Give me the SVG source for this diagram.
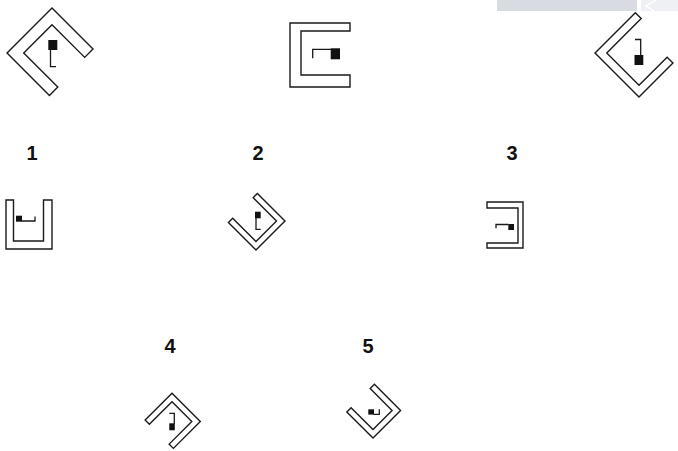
<svg xmlns="http://www.w3.org/2000/svg" width="678" height="451" viewBox="0 0 678 451">
<style>
.strip{fill:#fff;stroke:#1a1a1a;stroke-width:1.4;stroke-linejoin:miter}
.key{fill:none;stroke:#1a1a1a;stroke-width:1.3}
.blk{fill:#111}
.lbl{font-family:"Liberation Sans",Arial,sans-serif;font-weight:bold;font-size:20px;fill:#111;text-anchor:middle}
</style>
<rect width="678" height="451" fill="#fff"/>
<g id="watermark">
<rect x="497" y="0" width="140" height="11" fill="#d8dce2"/>
<rect x="641" y="0" width="37" height="11" fill="#eef0f3"/>
<path d="M656,0 L646,6 L654,11" fill="none" stroke="#fff" stroke-width="1.5"/>
</g>
<g id="shape1">
<path class="strip" transform="translate(52,53) rotate(45)" d="M26.2,-31.8 H-31.8 V31.8 H28.2 V20 H-20 V-20 H26.2 Z"/>
<rect class="blk" x="48.3" y="40" width="9" height="10"/>
<path class="key" d="M50.5,50 V66.7 H56"/>
</g>
<g id="shape2">
<path class="strip" d="M290,23 V87 H350 V75 H301 V31 H350 V23 Z"/>
<rect class="blk" x="330.7" y="48.3" width="9.3" height="11"/>
<path class="key" d="M331,49.3 H312.7 V58.3"/>
</g>
<g id="shape3">
<path class="strip" transform="translate(639,53) rotate(-45)" d="M25.9,-31.1 H-31.1 V31.1 H16.9 V22.8 H-22.8 V-22.8 H25.9 Z"/>
<rect class="blk" x="634.5" y="55" width="8.8" height="10"/>
<path class="key" d="M640.7,55 V39.5 H635"/>
</g>
<g id="shape4">
<path class="strip" d="M6,200 V249 H52 V200 H43.5 V241 H13.5 V200 Z"/>
<rect class="blk" x="16" y="215.7" width="6" height="6"/>
<path class="key" d="M21.5,221 H35 V216.5"/>
</g>
<g id="shape5">
<path class="strip" transform="translate(256,221) rotate(225)" d="M18.5,-20.5 H-20.5 V20.5 H18.5 V14.5 H-14.5 V-14.5 H18.5 Z"/>
<rect class="blk" x="255" y="211.7" width="5.7" height="6.6"/>
<path class="key" d="M256,218 V229.3 H260.7"/>
</g>
<g id="shape6">
<path class="strip" d="M487,202 H523 V248 H487 V243 H518 V208 H487 Z"/>
<rect class="blk" x="508.3" y="224" width="5.7" height="6"/>
<path class="key" d="M508.5,224.5 H496 V228.3"/>
</g>
<g id="shape7">
<path class="strip" transform="translate(172,421.5) rotate(135)" d="M18,-20 H-20 V20 H18 V14 H-14 V-14 H18 Z"/>
<rect class="blk" x="169.3" y="423.3" width="5.5" height="7"/>
<path class="key" d="M174.3,424 V413.3 H169.3"/>
</g>
<g id="shape8">
<path class="strip" transform="translate(373,410.5) rotate(225)" d="M17.5,-19.5 H-19.5 V19.5 H17.5 V13.5 H-13.5 V-13.5 H17.5 Z"/>
<rect class="blk" x="368.3" y="409.3" width="5.7" height="5.3"/>
<path class="key" d="M373.5,414.3 H379.3 V409.3"/>
</g>
<g id="labels">
<text class="lbl" x="32" y="160">1</text>
<text class="lbl" x="258" y="160">2</text>
<text class="lbl" x="512" y="160">3</text>
<text class="lbl" x="170" y="353">4</text>
<text class="lbl" x="368" y="353">5</text>
</g>
</svg>
